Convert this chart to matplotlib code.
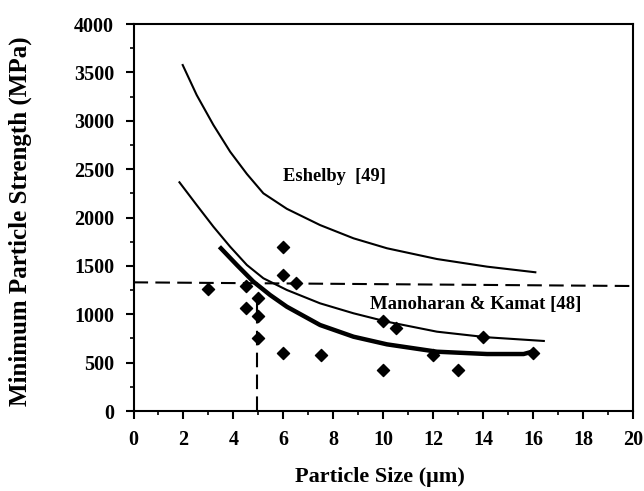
import matplotlib
matplotlib.use("Agg")
import matplotlib.pyplot as plt
from matplotlib.ticker import MultipleLocator

plt.rcParams['font.family'] = ['Liberation Serif', 'DejaVu Serif']
plt.rcParams['font.weight'] = 'bold'

# Eshelby [49]
esh_x = [1.97, 2.53, 3.20, 3.87, 4.54, 5.20, 6.14, 7.47, 8.81, 10.15, 12.15, 14.16, 16.09]
esh_y = [3576, 3266, 2956, 2680, 2450, 2250, 2090, 1922, 1785, 1682, 1571, 1492, 1434]

# Manoharan & Kamat [48]
mk_x = [1.84, 2.53, 3.20, 3.87, 4.54, 5.20, 6.14, 7.47, 8.81, 10.15, 12.15, 14.16, 16.43]
mk_y = [2364, 2129, 1905, 1698, 1509, 1372, 1251, 1113, 1010, 923, 820, 762, 724]

# thick fit curve
fit_x = [3.44, 4.14, 4.80, 5.47, 6.14, 7.47, 8.81, 10.15, 12.15, 14.16, 15.62, 15.96]
fit_y = [1698, 1509, 1337, 1199, 1078, 889, 768, 689, 613, 589, 589, 613]

# measured points
pt_x = [3.0, 4.5, 4.5, 5.0, 5.0, 5.0, 6.0, 6.0, 6.5, 6.0, 7.5, 10.0, 10.5, 10.0, 12.0, 13.0, 14.0, 16.0]
pt_y = [1261, 1295, 1068, 1171, 982, 751, 1692, 1406, 1326, 596, 579, 930, 855, 424, 579, 424, 770, 596]

# reference dashed lines
h_x = [0, 20]
h_y = [1330, 1292]
v_x = [4.94, 4.94]
v_y = [0, 1171]
seg_y = [982, 1171]

fig = plt.figure(figsize=(6.44, 4.91), dpi=100)
ax = fig.add_axes([0.2073, 0.1629, 0.7756, 0.7882])

ax.plot(esh_x, esh_y, color='black', lw=1.5)
ax.plot(mk_x, mk_y, color='black', lw=1.5)
ax.plot(fit_x, fit_y, color='black', lw=3.2, solid_capstyle='butt')
ax.plot(h_x, h_y, color='black', lw=1.5, dashes=(7, 3.5))
ax.plot(v_x, v_y, color='black', lw=1.5, dashes=(7, 3.5))
ax.plot(v_x, seg_y, color='black', lw=1.5)
ax.scatter(pt_x, pt_y, marker='D', s=38, color='black', zorder=5)

ax.text(6.0, 2422, 'Eshelby  [49]', fontsize=13.3, fontweight='bold', va='center', ha='left')
ax.text(9.45, 1096, 'Manoharan & Kamat [48]', fontsize=13.5, fontweight='bold', va='center', ha='left')

ax.set_xlim(0, 20)
ax.set_ylim(0, 4000)
ax.xaxis.set_major_locator(MultipleLocator(2))
ax.xaxis.set_minor_locator(MultipleLocator(1))
ax.yaxis.set_major_locator(MultipleLocator(500))
ax.yaxis.set_minor_locator(MultipleLocator(250))
ax.tick_params(which='major', direction='out', length=6, width=1.5, labelsize=14.5, pad=8)
ax.tick_params(which='minor', direction='out', length=3, width=1.2)
for lab in ax.get_xticklabels() + ax.get_yticklabels():
    lab.set_fontweight('bold')
for s in ax.spines.values():
    s.set_linewidth(1.5)

ax.set_xlabel('Particle Size (\u03bcm)', fontsize=16, fontweight='bold')
ax.set_ylabel('Minimum Particle Strength (MPa)', fontsize=18, fontweight='bold')
ax.xaxis.set_label_coords(0.494, -0.145)
ax.yaxis.set_label_coords(-0.203, 0.49)

fig.savefig('out.png', dpi=100)
